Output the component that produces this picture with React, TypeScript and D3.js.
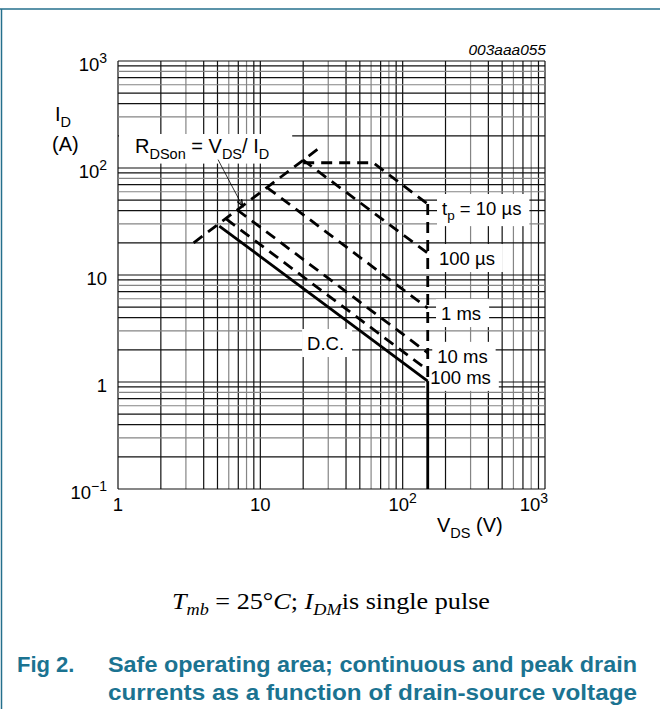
import React, { useEffect, useRef } from 'react';
import * as d3 from 'd3';

type Pt = [number, number];

// values: V_DS in volts, I_D in amps
const rdsonLimit: Pt[] = [[3.4, 20], [27, 160]];
const tp10us: Pt[] = [[20, 112], [62, 112], [150, 46]];
const tp100us: Pt[] = [[19.9, 119], [150, 16]];
const tp1ms: Pt[] = [[11.1, 66], [150, 4.9]];
const tp10ms: Pt[] = [[6.9, 40.5], [150, 1.87]];
const tp100ms: Pt[] = [[5.75, 33.4], [150, 1.29]];
const dcLine: Pt[] = [[5.15, 28.7], [150, 1.02]];
const vdsMaxDashed: Pt[] = [[150, 46], [150, 1.02]];
const vdsMaxSolid: Pt[] = [[150, 1.02], [150, 0.1]];
const rdsonArrowTarget: Pt = [7.5, 44];

const xTickExps = [0, 1, 2, 3];
const yTickExps = [-1, 0, 1, 2, 3];
const curveLabels = ['10 µs', '100 µs', '1 ms', '10 ms', '100 ms', 'D.C.'];

// where each curve label sits (V, I of its left edge / baseline)
const labelAnchors: Pt[] = [[189, 36.4], [180, 12.4], [186, 3.79], [175, 1.51], [156, 0.96], [21.3, 1.99]];

const SANS = '"Liberation Sans", Arial, sans-serif';
const SERIF = '"Liberation Serif", "Times New Roman", serif';
const TEAL = '#1b7391';

type Part = { t: string; sub?: boolean; sup?: boolean; italic?: boolean };

const richText = (
  g: d3.Selection<SVGGElement, unknown, null, undefined>,
  x: number,
  y: number,
  parts: Part[],
  size: number,
  small: number,
  family = SANS
) => {
  const text = g.append('text')
    .attr('x', x).attr('y', y)
    .attr('font-family', family)
    .attr('font-size', size)
    .style('white-space', 'pre');
  let shift = 0;
  parts.forEach(p => {
    const target = p.sub ? size * 0.28 : p.sup ? -size * 0.42 : 0;
    const ts = text.append('tspan').attr('dy', target - shift).text(p.t);
    if (p.sub || p.sup) ts.attr('font-size', small);
    if (p.italic) ts.attr('font-style', 'italic');
    shift = target;
  });
  return text;
};

const App: React.FC = () => {
  const svgRef = useRef<SVGSVGElement | null>(null);

  useEffect(() => {
    if (!svgRef.current) return;
    const svg = d3.select(svgRef.current);
    svg.selectAll('*').remove();

    const x = d3.scaleLog().domain([1, 1000]).range([118, 545]);
    const y = d3.scaleLog().domain([0.1, 1000]).range([489, 61]);

    // page frame
    svg.append('line').attr('x1', 0).attr('x2', 660).attr('y1', 9).attr('y2', 9)
      .attr('stroke', '#246f8c').attr('stroke-width', 1.5);
    svg.append('line').attr('x1', 1.5).attr('x2', 1.5).attr('y1', 9).attr('y2', 709)
      .attr('stroke', '#246f8c').attr('stroke-width', 1.5);

    const gGrid = svg.append('g');
    const gBoxes = svg.append('g');
    const gCurves = svg.append('g');
    const gText = svg.append('g');

    // log grid
    const gridVals = (decades: number[]) => {
      const out: { v: number; m: number }[] = [];
      decades.forEach(d => d3.range(1, 10).forEach(m => out.push({ v: d * m, m })));
      return out;
    };
    const gridColor = (m: number) => ([3, 6, 8].includes(m) ? '#858585' : '#111');
    const xGrid = [...gridVals([1, 10, 100]), { v: 1000, m: 1 }];
    const yGrid = [...gridVals([0.1, 1, 10, 100]), { v: 1000, m: 1 }];

    gGrid.selectAll('line.v').data(xGrid).enter().append('line')
      .attr('x1', d => x(d.v)).attr('x2', d => x(d.v))
      .attr('y1', y(1000)).attr('y2', y(0.1))
      .attr('stroke', d => gridColor(d.m)).attr('stroke-width', 1.2);
    gGrid.selectAll('line.h').data(yGrid).enter().append('line')
      .attr('x1', x(1)).attr('x2', x(1000))
      .attr('y1', d => y(d.v)).attr('y2', d => y(d.v))
      .attr('stroke', d => gridColor(d.m)).attr('stroke-width', 1.2);

    const boxFor = (t: d3.Selection<SVGTextElement, unknown, null, undefined>, pad: number[]) => {
      const b = (t.node() as SVGTextElement).getBBox();
      gBoxes.append('rect')
        .attr('x', b.x - pad[0]).attr('y', b.y - pad[1])
        .attr('width', b.width + pad[0] + pad[2]).attr('height', b.height + pad[1] + pad[3])
        .attr('fill', '#fff');
    };

    // curve labels
    curveLabels.forEach((lab, i) => {
      const [v, a] = labelAnchors[i];
      const parts: Part[] = i === 0
        ? [{ t: 't' }, { t: 'p', sub: true }, { t: ' = ' + lab }]
        : [{ t: lab }];
      const t = richText(gText, x(v), y(a), parts, 18.5, 13.5);
      boxFor(t, [5, 4, 8, 3]);
    });

    // RDSon annotation
    const rds = richText(gText, 135, 153, [
      { t: 'R' }, { t: 'DSon', sub: true }, { t: ' = V' }, { t: 'DS', sub: true }, { t: '/ I' }, { t: 'D', sub: true },
    ], 20, 14.5);
    const rb = (rds.node() as SVGTextElement).getBBox();
    gBoxes.append('rect').attr('x', x(1) + 1).attr('y', rb.y - 1)
      .attr('width', rb.x + rb.width + 22 - x(1)).attr('height', rb.height + 3).attr('fill', '#fff');

    // SOA curves
    const line = d3.line<Pt>().x(d => x(d[0])).y(d => y(d[1]));
    const dashed = [rdsonLimit, tp10us, tp100us, tp1ms, tp10ms, tp100ms, vdsMaxDashed];
    gCurves.selectAll('path.dash').data(dashed).enter().append('path')
      .attr('d', d => line(d))
      .attr('fill', 'none').attr('stroke', '#000').attr('stroke-width', 2.8)
      .attr('stroke-dasharray', '11,7');
    gCurves.selectAll('path.solid').data([dcLine, vdsMaxSolid]).enter().append('path')
      .attr('d', d => line(d))
      .attr('fill', 'none').attr('stroke', '#000').attr('stroke-width', 2.8);

    // arrow from RDSon label to the limit line
    const ax0 = 218, ay0 = rb.y + rb.height - 2;
    const ax1 = x(rdsonArrowTarget[0]), ay1 = y(rdsonArrowTarget[1]);
    gCurves.append('line').attr('x1', ax0).attr('y1', ay0).attr('x2', ax1).attr('y2', ay1)
      .attr('stroke', '#000').attr('stroke-width', 0.8);
    const ang = Math.atan2(ay1 - ay0, ax1 - ax0);
    const head = [-0.35, 0.35].map(s => [ax1 - 7 * Math.cos(ang + s), ay1 - 7 * Math.sin(ang + s)]);
    gCurves.append('path')
      .attr('d', `M${head[0][0]},${head[0][1]}L${ax1},${ay1}L${head[1][0]},${head[1][1]}`)
      .attr('fill', 'none').attr('stroke', '#000').attr('stroke-width', 1.4);

    // tick labels
    const tickParts = (e: number): Part[] =>
      e === 0 ? [{ t: '1' }] : e === 1 ? [{ t: '10' }] : [{ t: '10' }, { t: e < 0 ? '\u2212' + -e : String(e), sup: true }];

    xTickExps.forEach((e, i) => {
      const t = richText(gText, 0, 511, tickParts(e), 18.5, 14);
      const w = (t.node() as SVGTextElement).getComputedTextLength();
      const px = x(10 ** e);
      t.attr('x', i === xTickExps.length - 1 ? px + 3 - w : px - w / 2);
    });
    yTickExps.forEach(e => {
      const t = richText(gText, 0, y(10 ** e) + 10, tickParts(e), 18.5, 14);
      const w = (t.node() as SVGTextElement).getComputedTextLength();
      t.attr('x', 107 - w);
    });

    // axis titles
    richText(gText, 55, 121, [{ t: 'I' }, { t: 'D', sub: true }], 20, 14.5);
    richText(gText, 52, 151, [{ t: '(A)' }], 20, 14.5);
    richText(gText, 437, 532, [{ t: 'V' }, { t: 'DS', sub: true }, { t: ' (V)' }], 20, 14.5);

    gText.append('text').attr('x', 546).attr('y', 55).attr('text-anchor', 'end')
      .attr('font-family', SANS).attr('font-size', 15.5).attr('font-style', 'italic')
      .text('003aaa055');

    // condition note
    richText(gText, 172, 609, [
      { t: 'T', italic: true }, { t: 'mb', sub: true, italic: true }, { t: ' = 25°' }, { t: 'C', italic: true },
      { t: '; ' }, { t: 'I', italic: true }, { t: 'DM', sub: true, italic: true }, { t: 'is single pulse' },
    ], 23, 16, SERIF)
      .attr('textLength', 318).attr('lengthAdjust', 'spacingAndGlyphs');

    // figure caption
    const cap = gText.append('g').attr('fill', TEAL).attr('font-family', SANS)
      .attr('font-weight', 'bold').attr('font-size', 22);
    cap.append('text').attr('x', 17).attr('y', 672).text('Fig 2.');
    cap.append('text').attr('x', 108).attr('y', 672)
      .attr('textLength', 529).attr('lengthAdjust', 'spacingAndGlyphs')
      .text('Safe operating area; continuous and peak drain');
    cap.append('text').attr('x', 108).attr('y', 700)
      .attr('textLength', 529).attr('lengthAdjust', 'spacingAndGlyphs')
      .text('currents as a function of drain-source voltage');
  }, []);

  return (
    <svg
      ref={svgRef}
      width={660}
      height={709}
      style={{ position: 'absolute', left: 0, top: 0, background: '#fff' }}
    />
  );
};

export default App;
